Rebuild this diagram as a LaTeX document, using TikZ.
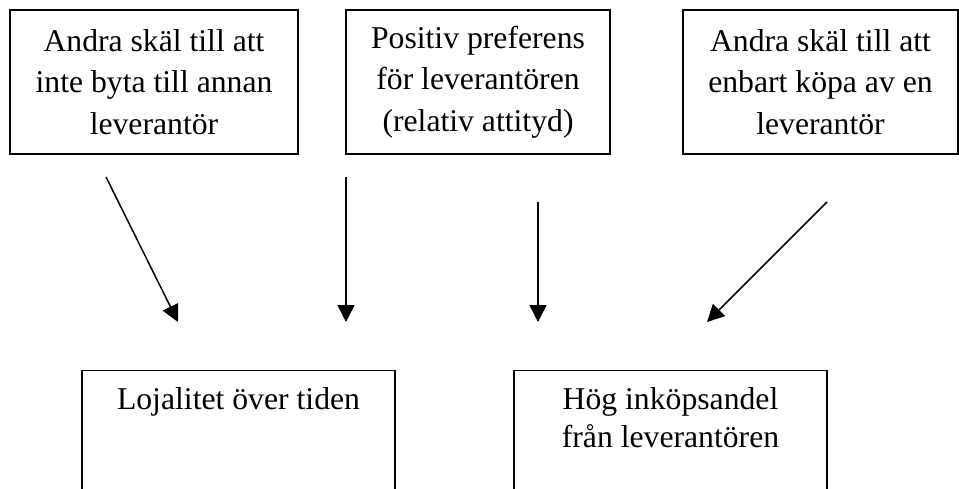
\documentclass[tikz,border=0pt]{standalone}
\usepackage{fontspec}
\setmainfont{Liberation Serif}
\usetikzlibrary{arrows.meta}
\begin{document}
\begin{tikzpicture}[x=1pt,y=-1pt,
  boxstyle/.style={draw, line width=1.4pt, inner sep=0pt, align=center,
    font=\fontsize{31.7pt}{41.5pt}\selectfont},
  lbl/.style={inner sep=0pt, anchor=base, align=center,
    font=\fontsize{31.7pt}{38.5pt}\selectfont},
  arr/.style={line width=1.5pt, -{Triangle[length=17pt,width=17pt]}}]
\path[use as bounding box] (0,0) rectangle (959,489);
\begin{scope}
\clip (0,0) rectangle (959,489);
\node[boxstyle, minimum width=288pt, minimum height=144pt] (b1) at (154,82)
  {Andra skäl till att\\inte byta till annan\\leverantör};
\node[boxstyle, minimum width=264pt, minimum height=144pt] (b2) at (478,82)
  {Positiv preferens\\för leverantören\\(relativ attityd)};
\node[boxstyle, minimum width=275pt, minimum height=144pt] (b3) at (820.5,82)
  {Andra skäl till att\\enbart köpa av en\\leverantör};
\node[boxstyle, anchor=north, minimum width=313pt, minimum height=200pt] (b4) at (238.5,370) {};
\node[boxstyle, anchor=north, minimum width=313pt, minimum height=200pt] (b5) at (670.5,370) {};
\end{scope}
\node[lbl] (t4) at (238.5,409) {Lojalitet över tiden};
\node[lbl] (t5a) at (670.5,409) {Hög inköpsandel};
\node[lbl] (t5b) at (670.5,447.5) {från leverantören};
\coordinate (s1) at (106,177);
\coordinate (e1) at (178,322);
\coordinate (s2) at (346,177);
\coordinate (e2) at (346,322);
\coordinate (s3) at (538,202);
\coordinate (e3) at (538,322);
\coordinate (s4) at (827,202);
\coordinate (e4) at (707,322);
\draw[arr] (s1) -- (e1);
\draw[arr] (s2) -- (e2);
\draw[arr] (s3) -- (e3);
\draw[arr] (s4) -- (e4);
\end{tikzpicture}
\end{document}
